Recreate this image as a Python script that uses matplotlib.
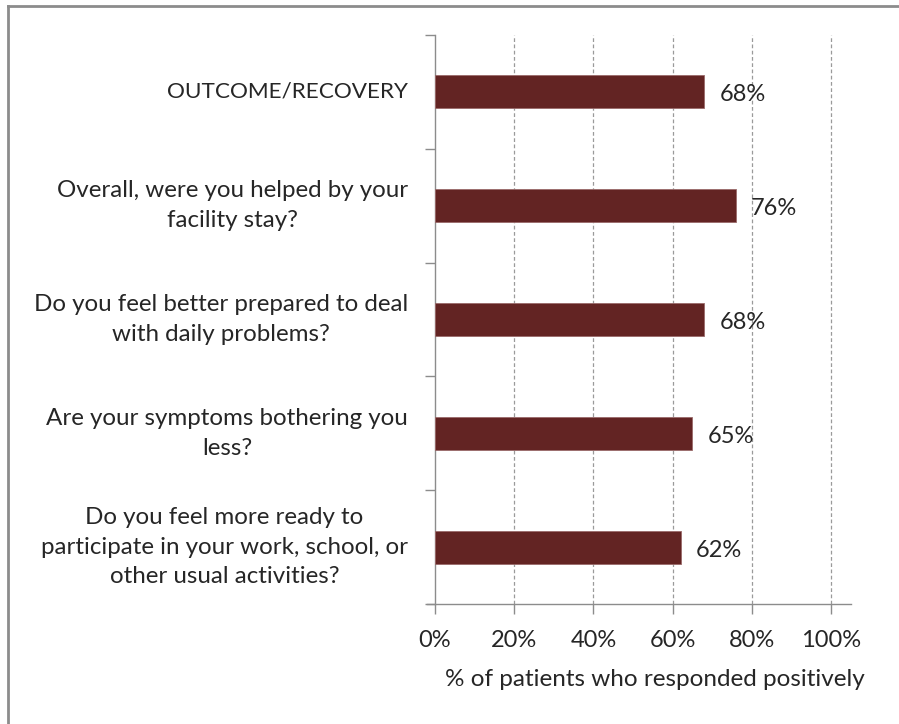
import matplotlib
matplotlib.use("Agg")
import matplotlib.pyplot as plt
from matplotlib.lines import Line2D

categories = [
    "OUTCOME/RECOVERY",
    "Overall, were you helped by your\nfacility stay?",
    "Do you feel better prepared to deal\nwith daily problems?",
    "Are your symptoms bothering you\nless?",
    "Do you feel more ready to\nparticipate in your work, school, or\nother usual activities?",
]
values = [68, 76, 68, 65, 62]
xticks = [0, 20, 40, 60, 80, 100]
xtick_labels = ["0%", "20%", "40%", "60%", "80%", "100%"]
xlabel = "% of patients who responded positively"

plt.rcParams['font.family'] = ['Lato', 'DejaVu Sans']
txt = '#262626'
grey = '#8c8c8c'

W, H = 899, 724
fig = plt.figure(figsize=(W/100, H/100), dpi=100)
ax = fig.add_axes([435/W, 1-604/H, (831-435)/W, (604-35)/H])

n = len(categories)
ypos = list(range(n))
ax.barh(ypos, values, height=0.29, color='#632423', edgecolor='#9a6a6a', linewidth=0.6, zorder=3)
ax.set_ylim(n-0.5, -0.5)
ax.set_xlim(0, 100)

for y, v in zip(ypos, values):
    ax.annotate(f"{v}%", xy=(v, y), xytext=(15, -3), textcoords='offset pixels',
                ha='left', va='center', fontsize=17, color=txt)

# category labels
for y, c in zip(ypos, categories):
    fs = 16.2 if c.isupper() else 17.4
    ax.annotate(c, xy=(0, y), xytext=(-27, 0), textcoords='offset pixels', ha='right', va='center',
                multialignment='center', fontsize=fs, color=txt, linespacing=1.5)

ax.set_yticks([])
ax.set_yticks([i - 0.5 for i in range(n+1)], minor=True)
ax.tick_params(axis='y', which='minor', length=7, color=grey, width=1, labelleft=False)
ax.set_xticks(xticks)
ax.set_xticklabels(xtick_labels, fontsize=17, color=txt)
ax.tick_params(axis='x', direction='out', length=7, color=grey, width=1, pad=12)

for x in xticks[1:]:
    ax.axvline(x, color='#9a9a9a', linestyle=(0, (3, 2)), linewidth=0.9, zorder=1, clip_on=False)

for s in ['top', 'right', 'bottom']:
    ax.spines[s].set_visible(False)
ax.spines['left'].set_color(grey)
ax.spines['left'].set_linewidth(1)

# bottom axis line extending a bit beyond
ax.plot([-2, 105], [n-0.5, n-0.5], color=grey, linewidth=1, clip_on=False, zorder=4)

ax.set_xlabel(xlabel, fontsize=17.5, color=txt)
ax.xaxis.set_label_coords((655-435)/(831-435), -(680-604)/(604-35), transform=ax.transAxes)
ax.xaxis.label.set_va('center')

# outer border (left and top)
fig.add_artist(Line2D([8/W, 8/W], [0, 1-6/H], color='#8c8c8c', linewidth=2, transform=fig.transFigure))
fig.add_artist(Line2D([8/W, 1], [1-6/H, 1-6/H], color='#8c8c8c', linewidth=2, transform=fig.transFigure))

fig.savefig('out.png', dpi=100, facecolor='white')
